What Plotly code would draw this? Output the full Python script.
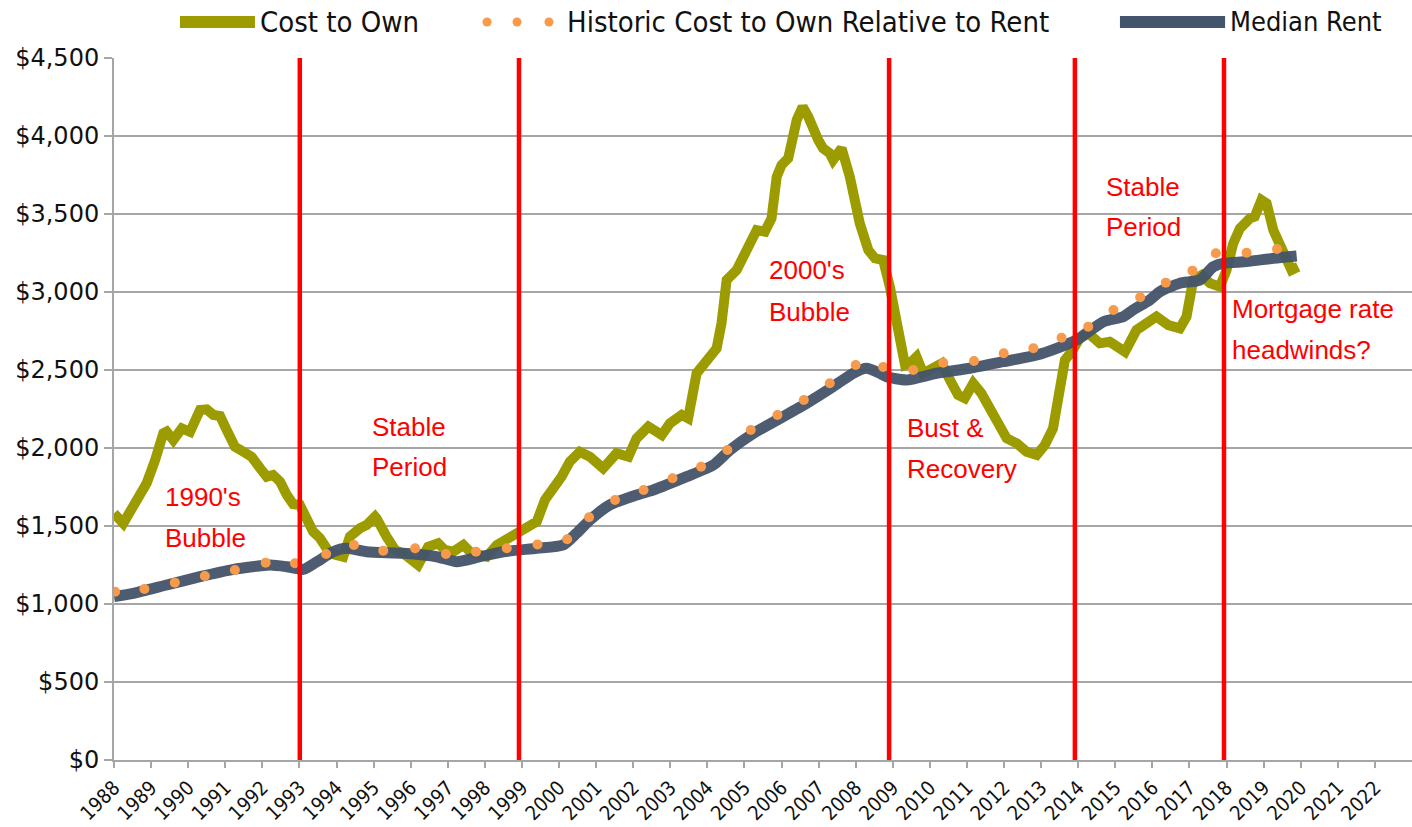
import plotly.graph_objects as go

# ---- Monthly-ish series (year as decimal, dollars per month) ----
own_years = [
    1988.00, 1988.25, 1988.51, 1988.88, 1989.11, 1989.33, 1989.42, 1989.60, 1989.83, 1990.05,
    1990.32, 1990.50, 1990.68, 1990.86, 1991.04, 1991.26, 1991.49, 1991.71, 1991.94, 1992.12,
    1992.29, 1992.48, 1992.66, 1992.83, 1993.01, 1993.20, 1993.37, 1993.55, 1993.82, 1994.18,
    1994.36, 1994.63, 1994.81, 1995.04, 1995.08, 1995.35, 1995.58, 1995.80, 1996.07, 1996.20,
    1996.47, 1996.74, 1996.92, 1997.15, 1997.42, 1997.60, 1997.87, 1998.05, 1998.32, 1998.59,
    1998.86, 1999.13, 1999.40, 1999.62, 1999.84, 2000.07, 2000.29, 2000.56, 2000.83, 2001.19,
    2001.55, 2001.87, 2002.09, 2002.41, 2002.77, 2002.99, 2003.31, 2003.48, 2003.71, 2003.98,
    2004.25, 2004.38, 2004.52, 2004.79, 2005.06, 2005.33, 2005.55, 2005.73, 2005.87, 2006.00,
    2006.18, 2006.41, 2006.57, 2006.72, 2006.99, 2007.12, 2007.30, 2007.39, 2007.62, 2007.84,
    2008.11, 2008.34, 2008.52, 2008.74, 2008.92, 2009.06, 2009.19, 2009.33, 2009.46, 2009.64,
    2009.82, 2010.09, 2010.32, 2010.54, 2010.76, 2010.94, 2011.17, 2011.39, 2011.62, 2011.84,
    2012.07, 2012.34, 2012.61, 2012.88, 2013.10, 2013.32, 2013.51, 2013.64, 2013.82, 2014.04,
    2014.27, 2014.58, 2014.85, 2015.26, 2015.57, 2015.84, 2016.11, 2016.43, 2016.74, 2016.92,
    2017.10, 2017.33, 2017.55, 2017.82, 2018.00, 2018.18, 2018.36, 2018.63, 2018.76, 2018.94,
    2019.08, 2019.26, 2019.44, 2019.62, 2019.75, 2019.93,
]
own_values = [
    1581, 1517, 1624, 1774, 1923, 2094, 2105, 2051, 2126, 2104,
    2244, 2248, 2212, 2205, 2115, 2008, 1976, 1944, 1870, 1816,
    1827, 1784, 1699, 1641, 1635, 1538, 1464, 1423, 1325, 1303,
    1431, 1485, 1506, 1560, 1549, 1431, 1346, 1325, 1261, 1250,
    1367, 1389, 1346, 1335, 1378, 1335, 1314, 1303, 1378, 1415,
    1442, 1474, 1528, 1667, 1731, 1816, 1912, 1976, 1944, 1870,
    1966, 1944, 2062, 2137, 2083, 2158, 2212, 2190, 2479, 2553,
    2639, 2799, 3077, 3141, 3269, 3397, 3387, 3472, 3739, 3814,
    3857, 4103, 4188, 4124, 3974, 3921, 3889, 3846, 3921, 3739,
    3440, 3269, 3216, 3205, 3034, 2863, 2649, 2532, 2543, 2585,
    2479, 2521, 2543, 2436, 2340, 2319, 2415, 2351, 2244, 2137,
    2062, 2030, 1976, 1955, 2019, 2126, 2372, 2564, 2617, 2703,
    2735, 2671, 2681, 2617, 2756, 2799, 2842, 2788, 2767, 2842,
    3077, 3109, 3056, 3034, 3141, 3312, 3408, 3472, 3483, 3590,
    3568, 3397, 3312, 3205, 3141, 3162,
]

rent_years = [
    1988.00, 1988.52, 1989.42, 1990.32, 1991.22, 1992.21, 1992.66, 1993.10, 1993.47, 1993.91,
    1994.27, 1994.81, 1995.80, 1996.70, 1997.24, 1997.87, 1998.50, 1999.40, 2000.11, 2000.47,
    2000.83, 2001.37, 2002.09, 2002.54, 2003.44, 2004.16, 2004.61, 2005.24, 2005.96, 2006.68,
    2007.39, 2007.93, 2008.29, 2008.65, 2008.83, 2009.37, 2010.18, 2011.08, 2011.98, 2012.88,
    2013.42, 2013.96, 2014.68, 2015.21, 2015.48, 2015.93, 2016.20, 2016.74, 2017.28, 2017.64,
    2017.91, 2018.54, 2019.26, 2019.89,
]
rent_values = [
    1047, 1068, 1122, 1175, 1222, 1250, 1239, 1222, 1271, 1335,
    1357, 1335, 1325, 1303, 1271, 1303, 1335, 1357, 1378, 1453,
    1538, 1635, 1699, 1731, 1816, 1891, 1987, 2094, 2190, 2287,
    2393, 2479, 2511, 2479, 2457, 2436, 2479, 2511, 2553, 2596,
    2639, 2693, 2810, 2842, 2885, 2949, 3002, 3056, 3077, 3162,
    3184, 3195, 3216, 3231,
]

hist_years = [
    1988.03, 1988.82, 1989.64, 1990.45, 1991.26, 1992.09, 1992.88, 1993.72, 1994.47, 1995.26,
    1996.12, 1996.95, 1997.76, 1998.59, 1999.42, 2000.22, 2000.81, 2001.51, 2002.28, 2003.06,
    2003.83, 2004.54, 2005.17, 2005.89, 2006.60, 2007.30, 2008.00, 2008.74, 2009.55, 2010.36,
    2011.19, 2011.99, 2012.79, 2013.55, 2014.27, 2014.95, 2015.67, 2016.36, 2017.08, 2017.71,
    2018.54, 2019.36,
]
hist_values = [
    1079, 1096, 1137, 1180, 1218, 1265, 1261, 1321, 1378, 1342,
    1357, 1321, 1335, 1357, 1382, 1415, 1556, 1667, 1731, 1806,
    1880, 1987, 2115, 2212, 2308, 2415, 2532, 2519, 2500, 2547,
    2558, 2607, 2639, 2707, 2778, 2885, 2966, 3060, 3137, 3248,
    3252, 3276,
]

year_ticks = list(range(1988, 2023))
dollar_ticks = list(range(0, 4501, 500))

# Period boundaries (red markers)
period_breaks = [1993.01, 1998.92, 2008.90, 2013.91, 2017.93]

# Period labels: (line 1, line 2, x, y of line 1, y of line 2)
period_notes = [
    ("1990's", "Bubble", 1989.32, 1686, 1423),
    ("Stable", "Period", 1994.90, 2135, 1878),
    ("2000's", "Bubble", 2005.61, 3141, 2872),
    ("Bust &", "Recovery", 2009.33, 2128, 1865),
    ("Stable", "Period", 2014.69, 3673, 3417),
    ("Mortgage rate", "headwinds?", 2018.09, 2891, 2628),
]

OLIVE = "#9c9c00"
SLATE = "#44546a"
ORANGE = "#f79a4c"
GRID = "#a6a6a6"
RED = "#ff0000"
CONDENSED = "DejaVu Sans Condensed, Liberation Sans, sans-serif"

fig = go.Figure()

fig.add_trace(go.Scatter(
    x=own_years, y=own_values, mode="lines", name="Cost to Own",
    line=dict(color=OLIVE, width=10), showlegend=False,
))
fig.add_trace(go.Scatter(
    x=rent_years, y=rent_values, mode="lines", name="Median Rent",
    line=dict(color=SLATE, width=11, shape="spline", smoothing=0.6),
    opacity=0.95, showlegend=False,
))
fig.add_trace(go.Scatter(
    x=hist_years, y=hist_values, mode="markers",
    name="Historic Cost to Own Relative to Rent",
    marker=dict(color=ORANGE, size=10, line=dict(width=0)), showlegend=False,
))

shapes = []
for yr in period_breaks:
    shapes.append(dict(type="line", xref="x", yref="y", x0=yr, x1=yr, y0=0, y1=4540,
                       line=dict(color=RED, width=4.5), layer="above"))

annotations = []
for l1, l2, x, y1, y2 in period_notes:
    for txt, yy in ((l1, y1), (l2, y2)):
        annotations.append(dict(
            x=x, y=yy, xref="x", yref="y", text=txt, showarrow=False,
            xanchor="left", yanchor="middle",
            font=dict(family="Liberation Sans, Arial, sans-serif", size=26, color=RED),
        ))

# Legend drawn along the top edge
ly = 1.0513
shapes.append(dict(type="line", xref="paper", yref="paper", x0=0.0508, x1=0.1086,
                   y0=ly, y1=ly, line=dict(color=OLIVE, width=12)))
for cx in (0.2874, 0.3105, 0.3351):
    shapes.append(dict(type="circle", xref="paper", yref="paper",
                       x0=cx - 0.0035, x1=cx + 0.0035, y0=ly - 0.0064, y1=ly + 0.0064,
                       fillcolor=ORANGE, line=dict(width=0)))
shapes.append(dict(type="line", xref="paper", yref="paper", x0=0.775, x1=0.856,
                   y0=ly, y1=ly, line=dict(color=SLATE, width=12)))
for txt, x, size in (("Cost to Own", 0.1109, 29),
                     ("Historic Cost to Own Relative to Rent", 0.3475, 29),
                     ("Median Rent", 0.8582, 27)):
    annotations.append(dict(x=x, y=ly, xref="paper", yref="paper", text=txt,
                            showarrow=False, xanchor="left", yanchor="middle",
                            font=dict(family=CONDENSED, size=size, color="#111111")))

fig.update_layout(
    width=1412, height=827,
    margin=dict(l=114, r=0, t=58, b=67),
    paper_bgcolor="white", plot_bgcolor="white",
    shapes=shapes, annotations=annotations,
    showlegend=False,
    xaxis=dict(
        range=[1988, 2023], tickmode="array", tickvals=year_ticks,
        ticktext=[str(y) for y in year_ticks], tickangle=-45, automargin=False,
        showgrid=False, zeroline=False, showline=True, linecolor=GRID, linewidth=2,
        ticks="outside", ticklen=6, tickwidth=2, tickcolor=GRID,
        tickfont=dict(family=CONDENSED, size=20, color="#111111"),
    ),
    yaxis=dict(
        range=[0, 4500], tickmode="array", tickvals=dollar_ticks,
        ticktext=["${:,}".format(v) for v in dollar_ticks], automargin=False,
        showgrid=True, gridcolor=GRID, gridwidth=2, zeroline=False,
        showline=True, linecolor=GRID, linewidth=2,
        ticks="outside", ticklen=8, tickwidth=2, tickcolor=GRID,
        tickfont=dict(family="DejaVu Sans, sans-serif", size=24, color="#111111"),
    ),
)

fig.write_html("out.html")
